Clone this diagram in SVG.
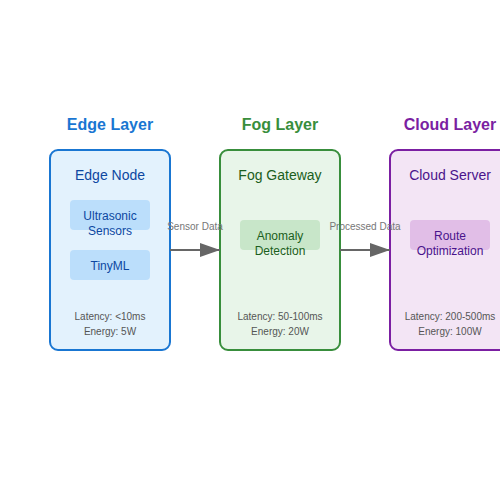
<svg xmlns="http://www.w3.org/2000/svg" width="500" height="500" viewBox="0 0 500 500">
<defs>
<marker id="arrow" markerWidth="10" markerHeight="7" refX="10" refY="3.5" orient="auto">
<polygon points="0 0, 10 3.5, 0 7" fill="#666"/>
</marker>
<style>
text { font-family: "Liberation Sans", Arial, sans-serif; text-anchor: middle; }
.layer { font-size: 16px; font-weight: bold; }
.title { font-size: 14px; }
.inner { font-size: 12px; }
.metric { font-size: 10px; fill: #555; }
.lbl { font-size: 10px; fill: #777; }
.box { stroke-width: 2; }
.conn { stroke: #666; stroke-width: 2; fill: none; marker-end: url(#arrow); }
</style>
</defs>
<rect width="500" height="500" fill="#fff"/>
<g id="edge">
<text class="layer" x="110" y="130" fill="#1976D2">Edge Layer</text>
<rect class="box" x="50" y="150" width="120" height="200" rx="8" fill="#E3F2FD" stroke="#1976D2"/>
<text class="title" x="110" y="180" fill="#0D47A1">Edge Node</text>
<rect x="70" y="200" width="80" height="30" rx="4" fill="#BBDEFB"/>
<text class="inner" x="110" y="220" fill="#0D47A1">Ultrasonic</text>
<text class="inner" x="110" y="235" fill="#0D47A1">Sensors</text>
<rect x="70" y="250" width="80" height="30" rx="4" fill="#BBDEFB"/>
<text class="inner" x="110" y="270" fill="#0D47A1">TinyML</text>
<text class="metric" x="110" y="320">Latency: &lt;10ms</text>
<text class="metric" x="110" y="335">Energy: 5W</text>
</g>
<g id="fog">
<text class="layer" x="280" y="130" fill="#388E3C">Fog Layer</text>
<rect class="box" x="220" y="150" width="120" height="200" rx="8" fill="#E8F5E9" stroke="#388E3C"/>
<text class="title" x="280" y="180" fill="#1B5E20">Fog Gateway</text>
<rect x="240" y="220" width="80" height="30" rx="4" fill="#C8E6C9"/>
<text class="inner" x="280" y="240" fill="#1B5E20">Anomaly</text>
<text class="inner" x="280" y="255" fill="#1B5E20">Detection</text>
<text class="metric" x="280" y="320">Latency: 50-100ms</text>
<text class="metric" x="280" y="335">Energy: 20W</text>
</g>
<g id="cloud">
<text class="layer" x="450" y="130" fill="#7B1FA2">Cloud Layer</text>
<rect class="box" x="390" y="150" width="120" height="200" rx="8" fill="#F3E5F5" stroke="#7B1FA2"/>
<text class="title" x="450" y="180" fill="#4A148C">Cloud Server</text>
<rect x="410" y="220" width="80" height="30" rx="4" fill="#E1BEE7"/>
<text class="inner" x="450" y="240" fill="#4A148C">Route</text>
<text class="inner" x="450" y="255" fill="#4A148C">Optimization</text>
<text class="metric" x="450" y="320">Latency: 200-500ms</text>
<text class="metric" x="450" y="335">Energy: 100W</text>
</g>
<g id="connectors">
<line class="conn" x1="170" y1="250" x2="220" y2="250"/>
<text class="lbl" x="195" y="230">Sensor Data</text>
<line class="conn" x1="340" y1="250" x2="390" y2="250"/>
<text class="lbl" x="365" y="230">Processed Data</text>
</g>
</svg>
